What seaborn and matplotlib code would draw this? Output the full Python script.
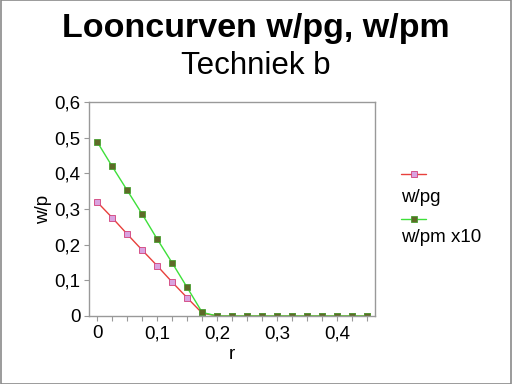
import numpy as np
import pandas as pd
import seaborn as sns
import matplotlib
matplotlib.use("Agg")
import matplotlib.pyplot as plt
from matplotlib.lines import Line2D
from matplotlib.patches import Rectangle

# ---- data ----
r_values = [0.0, 0.025, 0.05, 0.075, 0.1, 0.125, 0.15, 0.175, 0.2, 0.225,
            0.25, 0.275, 0.3, 0.325, 0.35, 0.375, 0.4, 0.425, 0.45]
w_pg = [0.320, 0.276, 0.230, 0.185, 0.141, 0.095, 0.051, 0.008, 0.0, 0.0,
        0.0, 0.0, 0.0, 0.0, 0.0, 0.0, 0.0, 0.0, 0.0]
w_pm_x10 = [0.489, 0.420, 0.353, 0.286, 0.216, 0.149, 0.080, 0.010, 0.0, 0.0,
            0.0, 0.0, 0.0, 0.0, 0.0, 0.0, 0.0, 0.0, 0.0]
series_names = ["w/pg", "w/pm x10"]
x_tick_values = [0.0, 0.1, 0.2, 0.3, 0.4]
x_tick_labels = ["0", "0,1", "0,2", "0,3", "0,4"]
y_tick_values = [0.0, 0.1, 0.2, 0.3, 0.4, 0.5, 0.6]
y_tick_labels = ["0", "0,1", "0,2", "0,3", "0,4", "0,5", "0,6"]
title = "Looncurven w/pg, w/pm"
subtitle = "Techniek b"

df = pd.DataFrame({
    "r": r_values * 2,
    "w/p": w_pg + w_pm_x10,
    "serie": [series_names[0]] * len(r_values) + [series_names[1]] * len(r_values),
})

sns.set_style("white")
plt.rcParams["font.family"] = ["Liberation Sans", "DejaVu Sans"]
plt.rcParams["text.color"] = "black"
plt.rcParams["axes.labelcolor"] = "black"
plt.rcParams["xtick.color"] = "black"
plt.rcParams["ytick.color"] = "black"

line_colors = {"w/pg": "#e8403c", "w/pm x10": "#3ee03a"}
marker_face = {"w/pg": "#d9a3e0", "w/pm x10": "#5e6a28"}
marker_edge = {"w/pg": "#d2407a", "w/pm x10": "#49a030"}

fig = plt.figure(figsize=(5.12, 3.84), dpi=100)
ax = fig.add_axes([0.1748, 0.1771, 0.5576, 0.5573])

for name in series_names:
    sub = df[df["serie"] == name]
    sns.lineplot(data=sub, x="r", y="w/p", ax=ax, color=line_colors[name],
                 linewidth=1.0, marker="s", markersize=4.0,
                 markerfacecolor=marker_face[name], markeredgecolor=marker_edge[name],
                 markeredgewidth=0.6, legend=False)

ax.set_xlim(-0.0125, 0.4625)
ax.set_ylim(0, 0.6)
ax.set_xticks(x_tick_values)
ax.set_xticklabels(x_tick_labels)
ax.set_xticks(r_values, minor=True)
ax.set_yticks(y_tick_values)
ax.set_yticklabels(y_tick_labels)
ax.tick_params(axis="both", which="both", direction="out", length=3.5, width=0.8,
               color="#999999", labelcolor="black", labelsize=13.5, pad=3,
               bottom=True, left=True)
for s in ax.spines.values():
    s.set_color("#999999")
    s.set_linewidth(1.0)
    s.set_visible(True)
ax.set_xlabel("r", fontsize=13.5, labelpad=3)
ax.set_ylabel("w/p", fontsize=13.5, labelpad=2)

fig.text(0.5, 1 - 37 / 384, title, ha="center", va="baseline",
         fontsize=24.5, fontweight="bold", color="black")
fig.text(0.5, 1 - 74 / 384, subtitle, ha="center", va="baseline",
         fontsize=22.5, color="black")

# manual legend: line above text
leg_x0, leg_x1 = 401 / 512, 426 / 512
for name, ly, ty in [("w/pg", 174, 197), ("w/pm x10", 219, 238)]:
    yy = 1 - ly / 384
    fig.add_artist(Line2D([leg_x0, leg_x1], [yy, yy], transform=fig.transFigure,
                          color=line_colors[name], linewidth=1.0))
    fig.add_artist(Line2D([(leg_x0 + leg_x1) / 2], [yy], transform=fig.transFigure,
                          marker="s", markersize=4.0, markerfacecolor=marker_face[name],
                          markeredgecolor=marker_edge[name], markeredgewidth=0.6,
                          linestyle="none"))
    fig.text(leg_x0, 1 - ty / 384, name, ha="left", va="center", fontsize=13.5,
             color="black")

fig.add_artist(Rectangle((0.001, 0.001), 0.998, 0.998, transform=fig.transFigure,
                         fill=False, edgecolor="#8a8a8a", linewidth=1.2))

fig.savefig("out.png", dpi=100)
